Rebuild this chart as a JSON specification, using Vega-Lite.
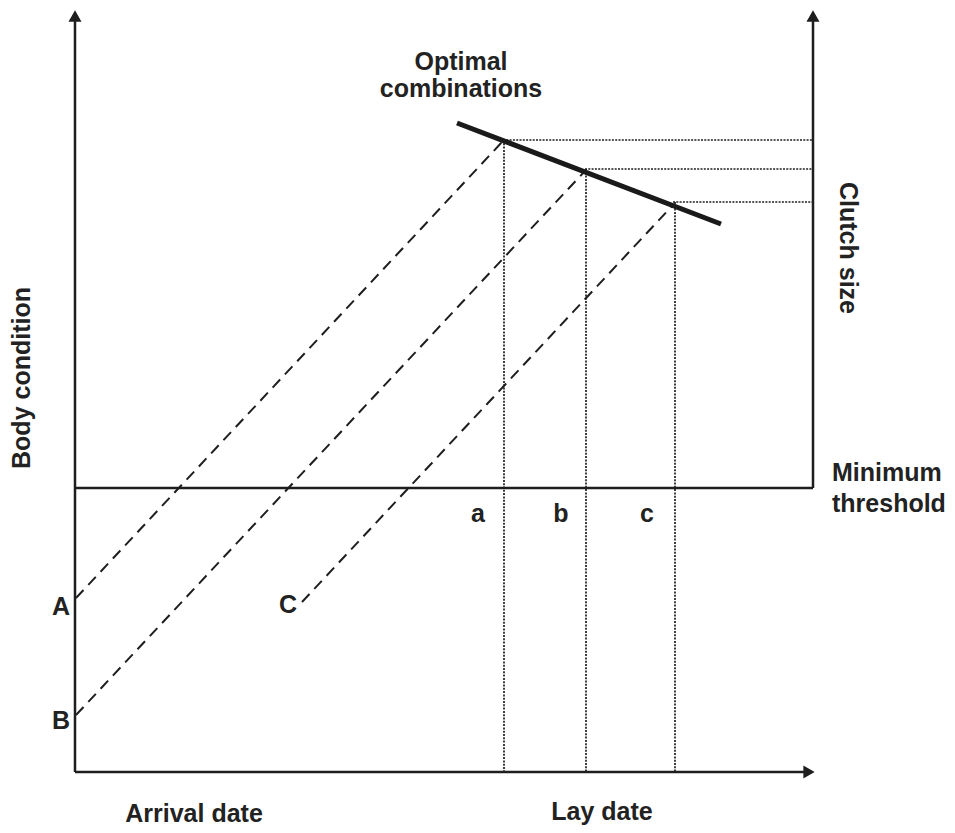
{
  "$schema": "https://vega.github.io/schema/vega-lite/v6.json",
  "width": 955,
  "height": 833,
  "padding": 0,
  "autosize": {"type": "fit", "contains": "padding"},
  "background": "white",
  "config": {"view": {"stroke": null}},
  "datasets": {
    "segs": [
      {"style": "solid", "x1": 75, "y1": 772, "x2": 75, "y2": 18},
      {"style": "solid", "x1": 75, "y1": 772, "x2": 806, "y2": 772},
      {"style": "solid", "x1": 75, "y1": 488, "x2": 813, "y2": 488},
      {"style": "solid", "x1": 813, "y1": 488, "x2": 813, "y2": 18},
      {"style": "thick", "x1": 457, "y1": 123, "x2": 721, "y2": 224},
      {"style": "dashed", "x1": 76, "y1": 598, "x2": 503, "y2": 141},
      {"style": "dashed", "x1": 76, "y1": 715, "x2": 585, "y2": 171},
      {"style": "dashed", "x1": 302, "y1": 602, "x2": 673, "y2": 205},
      {"style": "dotted", "x1": 503, "y1": 140, "x2": 813, "y2": 140},
      {"style": "dotted", "x1": 585, "y1": 169, "x2": 813, "y2": 169},
      {"style": "dotted", "x1": 673, "y1": 202, "x2": 813, "y2": 202},
      {"style": "dotted", "x1": 504, "y1": 140, "x2": 504, "y2": 772},
      {"style": "dotted", "x1": 586, "y1": 169, "x2": 586, "y2": 772},
      {"style": "dotted", "x1": 675, "y1": 202, "x2": 675, "y2": 772}
    ],
    "arrows": [
      {"x": 75, "y": 16, "shape": "triangle-up"},
      {"x": 813, "y": 16, "shape": "triangle-up"},
      {"x": 809, "y": 772, "shape": "triangle-right"}
    ],
    "labels": [
      {"text": "Optimal", "x": 461, "y": 70, "angle": 0},
      {"text": "combinations", "x": 461, "y": 97, "angle": 0},
      {"text": "a", "x": 478, "y": 522, "angle": 0},
      {"text": "b", "x": 561, "y": 522, "angle": 0},
      {"text": "c", "x": 647, "y": 522, "angle": 0},
      {"text": "A", "x": 61, "y": 615, "angle": 0},
      {"text": "B", "x": 61, "y": 729, "angle": 0},
      {"text": "C", "x": 288, "y": 613, "angle": 0},
      {"text": "Arrival date", "x": 194, "y": 822, "angle": 0},
      {"text": "Lay date", "x": 602, "y": 820, "angle": 0},
      {"text": "Body condition", "x": 30, "y": 378, "angle": 270},
      {"text": "Clutch size", "x": 840, "y": 248, "angle": 90}
    ],
    "leftlabels": [
      {"text": "Minimum", "x": 832, "y": 481},
      {"text": "threshold", "x": 832, "y": 512}
    ]
  },
  "layer": [
    {
      "data": {"name": "segs"},
      "transform": [{"filter": "datum.style === 'solid'"}],
      "mark": {"type": "rule", "color": "#1e1e1e", "strokeWidth": 2.5},
      "encoding": {
        "x": {"field": "x1", "type": "quantitative", "scale": {"domain": [0, 955], "nice": false, "zero": false}, "axis": null},
        "y": {"field": "y1", "type": "quantitative", "scale": {"domain": [0, 833], "nice": false, "zero": false, "reverse": true}, "axis": null},
        "x2": {"field": "x2"},
        "y2": {"field": "y2"}
      }
    },
    {
      "data": {"name": "segs"},
      "transform": [{"filter": "datum.style === 'dashed'"}],
      "mark": {"type": "rule", "color": "#1e1e1e", "strokeWidth": 2, "strokeDash": [11, 7]},
      "encoding": {
        "x": {"field": "x1", "type": "quantitative", "scale": {"domain": [0, 955], "nice": false, "zero": false}, "axis": null},
        "y": {"field": "y1", "type": "quantitative", "scale": {"domain": [0, 833], "nice": false, "zero": false, "reverse": true}, "axis": null},
        "x2": {"field": "x2"},
        "y2": {"field": "y2"}
      }
    },
    {
      "data": {"name": "segs"},
      "transform": [{"filter": "datum.style === 'dotted'"}],
      "mark": {"type": "rule", "color": "#1e1e1e", "strokeWidth": 1.7, "strokeDash": [2, 1.3]},
      "encoding": {
        "x": {"field": "x1", "type": "quantitative", "scale": {"domain": [0, 955], "nice": false, "zero": false}, "axis": null},
        "y": {"field": "y1", "type": "quantitative", "scale": {"domain": [0, 833], "nice": false, "zero": false, "reverse": true}, "axis": null},
        "x2": {"field": "x2"},
        "y2": {"field": "y2"}
      }
    },
    {
      "data": {"name": "segs"},
      "transform": [{"filter": "datum.style === 'thick'"}],
      "mark": {"type": "rule", "color": "#1a1a1a", "strokeWidth": 5},
      "encoding": {
        "x": {"field": "x1", "type": "quantitative", "scale": {"domain": [0, 955], "nice": false, "zero": false}, "axis": null},
        "y": {"field": "y1", "type": "quantitative", "scale": {"domain": [0, 833], "nice": false, "zero": false, "reverse": true}, "axis": null},
        "x2": {"field": "x2"},
        "y2": {"field": "y2"}
      }
    },
    {
      "data": {"name": "arrows"},
      "mark": {"type": "point", "filled": true, "color": "#1e1e1e", "size": 170, "opacity": 1, "strokeWidth": 0},
      "encoding": {
        "x": {"field": "x", "type": "quantitative", "scale": {"domain": [0, 955], "nice": false, "zero": false}, "axis": null},
        "y": {"field": "y", "type": "quantitative", "scale": {"domain": [0, 833], "nice": false, "zero": false, "reverse": true}, "axis": null},
        "shape": {"field": "shape", "type": "nominal", "scale": null}
      }
    },
    {
      "data": {"name": "labels"},
      "mark": {"type": "text", "font": "Liberation Sans", "fontWeight": "bold", "fontSize": 25, "color": "#222222", "align": "center", "baseline": "alphabetic"},
      "encoding": {
        "x": {"field": "x", "type": "quantitative", "scale": {"domain": [0, 955], "nice": false, "zero": false}, "axis": null},
        "y": {"field": "y", "type": "quantitative", "scale": {"domain": [0, 833], "nice": false, "zero": false, "reverse": true}, "axis": null},
        "text": {"field": "text", "type": "nominal"},
        "angle": {"field": "angle", "type": "quantitative", "scale": null}
      }
    },
    {
      "data": {"name": "leftlabels"},
      "mark": {"type": "text", "font": "Liberation Sans", "fontWeight": "bold", "fontSize": 25, "color": "#222222", "align": "left", "baseline": "alphabetic"},
      "encoding": {
        "x": {"field": "x", "type": "quantitative", "scale": {"domain": [0, 955], "nice": false, "zero": false}, "axis": null},
        "y": {"field": "y", "type": "quantitative", "scale": {"domain": [0, 833], "nice": false, "zero": false, "reverse": true}, "axis": null},
        "text": {"field": "text", "type": "nominal"}
      }
    }
  ]
}
